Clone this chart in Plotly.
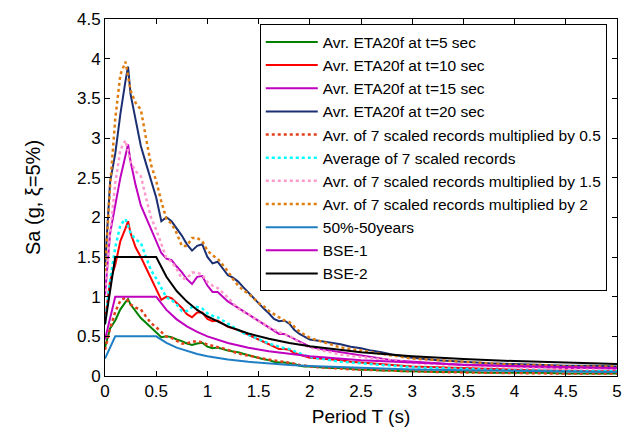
import plotly.graph_objects as go

# ---------------- data ----------------
T = [0, 0.05, 0.1, 0.15, 0.2, 0.225, 0.25, 0.3, 0.35, 0.4, 0.45, 0.5, 0.55, 0.6, 0.65, 0.7,
     0.75, 0.8, 0.85, 0.9, 0.95, 1.0, 1.05, 1.1, 1.15, 1.2, 1.25, 1.3, 1.35, 1.4, 1.45, 1.5,
     1.55, 1.6, 1.65, 1.7, 1.75, 1.8, 1.85, 1.9, 1.95, 2.0, 2.1, 2.2, 2.3, 2.4, 2.5, 2.6,
     2.7, 2.8, 2.9, 3.0, 3.25, 3.5, 3.75, 4.0, 4.25, 4.5, 4.75, 5.0]

eta_t5 = [0.36, 0.6, 0.7, 0.84, 0.93, 0.97, 0.9, 0.81, 0.73, 0.67, 0.61, 0.56, 0.49, 0.5, 0.49, 0.46,
          0.44, 0.41, 0.39, 0.41, 0.42, 0.37, 0.35, 0.36, 0.34, 0.32, 0.31, 0.3, 0.28, 0.26, 0.25, 0.23,
          0.21, 0.2, 0.18, 0.17, 0.17, 0.16, 0.15, 0.13, 0.12, 0.12, 0.11, 0.1, 0.1, 0.09, 0.08, 0.08,
          0.07, 0.07, 0.06, 0.06, 0.05, 0.05, 0.04, 0.04, 0.04, 0.03, 0.03, 0.03]

eta_t10 = [0.7, 1.2, 1.4, 1.7, 1.86, 1.95, 1.8, 1.62, 1.5, 1.36, 1.24, 1.1, 0.96, 1.0, 0.98, 0.92,
           0.86, 0.78, 0.74, 0.8, 0.8, 0.72, 0.69, 0.7, 0.66, 0.62, 0.6, 0.58, 0.55, 0.52, 0.49, 0.46,
           0.43, 0.4, 0.36, 0.34, 0.34, 0.33, 0.29, 0.27, 0.25, 0.23, 0.22, 0.21, 0.2, 0.18, 0.17, 0.16,
           0.15, 0.14, 0.13, 0.12, 0.11, 0.1, 0.09, 0.08, 0.07, 0.07, 0.06, 0.06]

eta_t15 = [1.02, 1.8, 2.15, 2.5, 2.78, 2.92, 2.7, 2.4, 2.15, 2.0, 1.85, 1.68, 1.55, 1.48, 1.46, 1.38,
           1.31, 1.22, 1.16, 1.25, 1.26, 1.14, 1.06, 1.06, 1.0, 0.94, 0.9, 0.86, 0.82, 0.78, 0.74, 0.7,
           0.66, 0.62, 0.57, 0.53, 0.53, 0.5, 0.46, 0.43, 0.4, 0.37, 0.34, 0.32, 0.3, 0.28, 0.26, 0.24,
           0.22, 0.2, 0.19, 0.18, 0.16, 0.14, 0.13, 0.12, 0.11, 0.1, 0.1, 0.09]

eta_t20 = [1.38, 2.45, 2.8, 3.3, 3.72, 3.9, 3.55, 3.24, 2.9, 2.68, 2.45, 2.25, 1.95, 2.0, 1.95, 1.86,
           1.77, 1.66, 1.58, 1.64, 1.66, 1.5, 1.42, 1.44, 1.36, 1.27, 1.24, 1.19, 1.12, 1.05, 0.98, 0.92,
           0.85, 0.79, 0.72, 0.69, 0.7, 0.66, 0.58, 0.53, 0.49, 0.46, 0.44, 0.42, 0.4, 0.37, 0.35, 0.32,
           0.3, 0.27, 0.25, 0.23, 0.2, 0.18, 0.16, 0.15, 0.14, 0.13, 0.13, 0.12]

avg_records = [0.66, 1.2, 1.62, 1.9, 1.98, 1.88, 1.8, 1.72, 1.68, 1.5, 1.33, 1.23, 1.1, 0.99, 0.96, 0.9,
               0.82, 0.82, 0.87, 0.87, 0.85, 0.79, 0.76, 0.74, 0.7, 0.66, 0.61, 0.57, 0.54, 0.52, 0.49, 0.46,
               0.44, 0.41, 0.39, 0.37, 0.35, 0.34, 0.31, 0.28, 0.26, 0.24, 0.22, 0.2, 0.18, 0.17, 0.16, 0.15,
               0.14, 0.13, 0.12, 0.11, 0.1, 0.09, 0.08, 0.07, 0.07, 0.06, 0.06, 0.06]

record_factors = [0.5, 1.0, 1.5, 2.0]   # multipliers given in the legend

T_design = [0, 0.1, 0.5, 0.6, 0.7, 0.8, 0.9, 1.0, 1.2, 1.4, 1.6, 1.8, 2.0, 2.5, 3.0, 3.5, 4.0, 4.5, 5.0]
spec_50_50 = [0.22, 0.5, 0.5, 0.417, 0.357, 0.313, 0.278, 0.25, 0.208, 0.179, 0.156, 0.139, 0.125,
              0.1, 0.083, 0.071, 0.063, 0.056, 0.05]
spec_bse1 = [0.46, 1.0, 1.0, 0.833, 0.714, 0.625, 0.556, 0.5, 0.417, 0.357, 0.313, 0.278, 0.25,
             0.2, 0.167, 0.143, 0.125, 0.111, 0.1]
spec_bse2 = [0.65, 1.5, 1.5, 1.25, 1.071, 0.938, 0.833, 0.75, 0.625, 0.536, 0.469, 0.417, 0.375,
             0.3, 0.25, 0.214, 0.188, 0.167, 0.15]

x_ticks = [0, 0.5, 1, 1.5, 2, 2.5, 3, 3.5, 4, 4.5, 5]
y_ticks = [0, 0.5, 1, 1.5, 2, 2.5, 3, 3.5, 4, 4.5]
x_ticklabels = ["0", "0.5", "1", "1.5", "2", "2.5", "3", "3.5", "4", "4.5", "5"]
y_ticklabels = ["0", "0.5", "1", "1.5", "2", "2.5", "3", "3.5", "4", "4.5"]

# ---------------- figure ----------------
fig = go.Figure()

solid = [
    ("Avr. ETA20f at t=5 sec", eta_t5, "#008000"),
    ("Avr. ETA20f at t=10 sec", eta_t10, "#ff0000"),
    ("Avr. ETA20f at t=15 sec", eta_t15, "#bf00bf"),
    ("Avr. ETA20f at t=20 sec", eta_t20, "#1b2f72"),
]
for i, (name, vals, col) in enumerate(solid):
    fig.add_trace(go.Scatter(x=T, y=vals, mode="lines", name=name, legendgroup=f"g{i}",
                             line=dict(color=col, width=2)))

rec_names = ["Avr. of 7 scaled records multiplied by 0.5", "Average of 7 scaled records",
             "Avr. of 7 scaled records multiplied by 1.5", "Avr. of 7 scaled records multiplied by 2"]
rec_colors = ["#e2401b", "#00ffff", "#ff99cc", "#e07d10"]
for j, (name, f, col) in enumerate(zip(rec_names, record_factors, rec_colors)):
    fig.add_trace(go.Scatter(x=T, y=[round(v * f, 3) for v in avg_records], mode="lines", name=name,
                             legendgroup=f"r{j}", line=dict(color=col, width=2.5, dash="dot")))

design = [("50%-50years", spec_50_50, "#1f7fc4"), ("BSE-1", spec_bse1, "#bf00bf"),
          ("BSE-2", spec_bse2, "#000000")]
for k, (name, vals, col) in enumerate(design):
    fig.add_trace(go.Scatter(x=T_design, y=vals, mode="lines", name=name, legendgroup=f"d{k}",
                             line=dict(color=col, width=2)))

axis_common = dict(showline=True, linecolor="black", linewidth=1, mirror="ticks", ticks="inside",
                   ticklen=5, tickcolor="black", showgrid=False, zeroline=False,
                   tickfont=dict(family="Liberation Sans, Arial", size=17, color="black"))

fig.update_layout(
    width=629, height=431,
    margin=dict(l=105, r=7, t=19, b=53),
    paper_bgcolor="white", plot_bgcolor="white",
    font=dict(family="Liberation Sans, Arial", color="black"),
    xaxis=dict(range=[0, 5], tickvals=x_ticks, ticktext=x_ticklabels,
               title=dict(text="Period T (s)", font=dict(size=19), standoff=9), **axis_common),
    yaxis=dict(range=[0, 4.5], tickvals=y_ticks, ticktext=y_ticklabels,
               title=dict(text="Sa (g, ξ=5%)", font=dict(size=20), standoff=30), **axis_common),
    legend=dict(x=0.98, y=0.985, xanchor="right", yanchor="top", bgcolor="white",
                bordercolor="black", borderwidth=1, font=dict(size=15.5),
                traceorder="grouped", tracegroupgap=0, itemwidth=52),
    showlegend=True,
)

fig.write_html("out.html")
